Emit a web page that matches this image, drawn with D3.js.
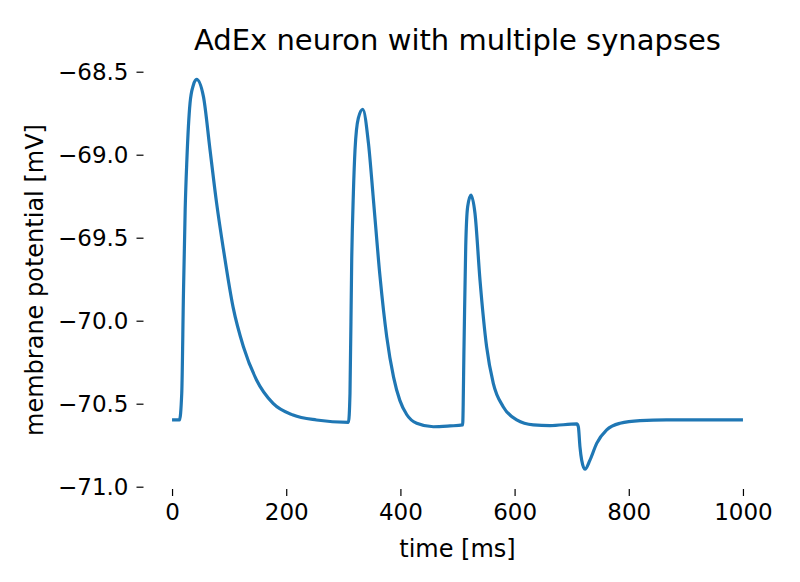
<!DOCTYPE html>
<html>
<head>
<meta charset="utf-8">
<script src="https://cdn.jsdelivr.net/npm/d3@7"></script>
<style>
  body { margin: 0; background: #fff; }
  svg { display: block; font-family: "DejaVu Sans", sans-serif; }
  .tick text { fill: #000; }
</style>
</head>
<body>
<div id="chart"></div>
<script>
// membrane potential
const timeMs = [0, 13, 17, 20, 23, 26, 31.5, 37.4, 43, 55, 66.5, 78, 90, 107, 125, 148, 177, 212, 253, 309,
  311.7, 314.7, 317.6, 320.5, 326.3, 334, 344, 352.7, 364.3, 376, 388, 399, 411, 428.5, 457.6, 487, 509,
  511.4, 514.4, 517.8, 523.6, 530.6, 539.4, 551, 562.7, 580, 603.7, 632.8, 662, 709,
  711.7, 714.5, 717.5, 723.3, 732, 743.8, 761.3, 784.7, 819.6, 866, 1000];
const vm = [-70.598, -70.598, -70.437, -69.835, -69.33, -69.03, -68.69, -68.58, -68.546, -68.65, -68.97, -69.29, -69.57, -69.92, -70.157, -70.357, -70.498, -70.568, -70.598, -70.612,
  -70.437, -69.634, -69.233, -68.97, -68.78, -68.727, -68.93, -69.27, -69.735, -70.096, -70.34, -70.48, -70.565, -70.618, -70.639, -70.634, -70.628,
  -70.157, -69.554, -69.313, -69.243, -69.353, -69.755, -70.157, -70.377, -70.518, -70.598, -70.628, -70.632, -70.622,
  -70.64, -70.76, -70.84, -70.895, -70.84, -70.739, -70.658, -70.618, -70.602, -70.598, -70.598];
const xTicks = [0, 200, 400, 600, 800, 1000];
const yTicks = [-71.0, -70.5, -70.0, -69.5, -69.0, -68.5];

const data = timeMs.map((t, i) => ({t: t, v: vm[i]}));

const width = 800, height = 582;
const margin = {top: 61, right: 28.5, bottom: 93, left: 143.5};

const svg = d3.select('#chart').append('svg')
    .attr('width', width)
    .attr('height', height);

// matplotlib style: 5% padding around the data
const xScale = d3.scaleLinear()
    .domain([-50, 1050])
    .range([margin.left, width - margin.right]);

const yScale = d3.scaleLinear()
    .domain([-71.0139, -68.4355])
    .range([height - margin.bottom, margin.top]);

const line = d3.line()
    .x(d => xScale(d.t))
    .y(d => yScale(d.v))
    .curve(d3.curveMonotoneX);

svg.append('path')
    .datum(data)
    .attr('d', line)
    .attr('fill', 'none')
    .attr('stroke', '#1f77b4')
    .attr('stroke-width', 3.2)
    .attr('stroke-linejoin', 'round');

// axes without spines, just ticks
const xAxis = svg.append('g')
    .attr('transform', 'translate(0,' + (height - margin.bottom) + ')')
    .call(d3.axisBottom(xScale).tickValues(xTicks).tickSize(7).tickPadding(8)
        .tickFormat(d3.format('d')));

const yAxis = svg.append('g')
    .attr('transform', 'translate(' + margin.left + ',0)')
    .call(d3.axisLeft(yScale).tickValues(yTicks).tickSize(7).tickPadding(8)
        .tickFormat(d => d3.format('.1f')(d).replace('-', '\u2212')));

[xAxis, yAxis].forEach(g => {
  g.select('.domain').remove();
  g.selectAll('.tick line').attr('stroke', '#000').attr('stroke-width', 1.2);
  g.selectAll('.tick text').attr('font-size', 23).attr('font-family', 'DejaVu Sans');
});

svg.append('text')
    .attr('x', (margin.left + width - margin.right) / 2)
    .attr('y', 50)
    .attr('text-anchor', 'middle')
    .attr('font-size', 29)
    .text('AdEx neuron with multiple synapses');

svg.append('text')
    .attr('x', (margin.left + width - margin.right) / 2)
    .attr('y', 557)
    .attr('text-anchor', 'middle')
    .attr('font-size', 24)
    .text('time [ms]');

svg.append('text')
    .attr('transform', 'translate(43,280) rotate(-90)')
    .attr('text-anchor', 'middle')
    .attr('font-size', 24)
    .text('membrane potential [mV]');
</script>
</body>
</html>
